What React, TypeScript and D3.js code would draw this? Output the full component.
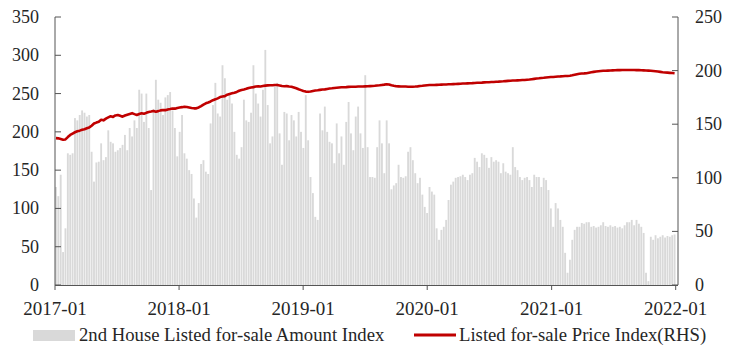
import React from "react";
import * as d3 from "d3";

// Weekly data starting 2017-01-01
const startDate = new Date(2017, 0, 1);

const amountIndex: number[] = [
  128,116,144,43,74,172,170,172,218,215,
  222,228,225,220,222,174,135,160,161,185,
  163,167,202,187,185,174,176,179,183,196,
  176,205,194,215,205,255,250,213,250,205,
  124,230,268,242,238,222,245,248,252,228,
  205,168,200,222,172,165,150,145,113,88,
  107,158,163,148,145,211,235,264,224,220,
  287,270,242,250,237,200,170,165,180,242,
  215,213,225,287,250,237,220,255,307,235,
  185,194,259,264,198,157,226,224,189,222,
  215,194,226,200,179,248,189,141,120,89,
  85,224,202,233,200,187,185,159,211,172,
  194,157,213,239,198,176,220,233,198,179,
  274,180,141,141,140,180,215,185,146,215,
  185,125,130,133,157,141,140,142,174,180,
  163,146,133,140,118,102,94,128,122,118,
  74,59,72,76,85,111,131,135,140,141,
  142,144,141,137,144,146,166,161,154,172,
  170,166,153,167,161,163,161,146,159,148,
  146,144,180,154,150,141,137,140,141,137,
  128,144,141,141,128,140,137,124,100,76,
  107,100,85,76,42,16,33,59,72,76,
  76,81,80,82,82,76,77,75,76,78,
  82,77,76,78,76,77,75,76,74,78,
  82,82,85,78,85,80,76,68,16,5,
  63,59,65,61,63,65,62,64,63,65,66,
];

const priceIndex: number[] = [
  137,136.8,136.2,135.5,135.8,138,140,141.3,142.5,143.4,
  144,144.8,145.3,146.2,147,148.6,150.6,151.5,152.3,154.2,
  153.6,155.2,156.4,157.4,156.8,158.2,158.6,157.8,157,158.1,
  158.9,159.6,160.3,159.4,158.6,159.5,160.2,159.7,160.6,161.4,
  161.8,162.3,161.7,162.2,162.9,163.3,163.1,163.8,164.2,164.7,
  164.5,165.2,165.6,165.9,166.3,166,165.6,165.1,164.8,164.8,
  165.6,166.9,168.3,169.5,170.3,171.2,172.4,173.2,174.1,175.3,
  175.8,176.2,177.5,178.2,178.8,179.4,180.1,181.2,181.9,182.4,
  183,183.8,184.3,184.6,185.1,185.3,185.2,185.6,186,186.2,
  186.4,186.3,186.6,186.5,186.1,185.6,185.4,185.5,185.2,185,
  184.3,183.5,182.6,181.8,181,180.4,180.2,180.5,181,181.4,
  181.6,182,182.3,182.5,182.9,183.3,183.5,183.8,184,184.2,
  184.4,184.5,184.6,184.8,184.9,185,185,185.1,185.2,185.1,
  185.3,185.4,185.5,185.6,185.8,186.1,186.3,186.6,186.9,187.3,
  187,186.3,185.8,185.4,185.3,185.2,185.1,185.1,185,185,
  185,185.1,185.3,185.6,185.8,186.1,186.4,186.5,186.5,186.6,
  186.7,186.8,186.9,187,187.1,187.2,187.3,187.4,187.5,187.6,
  187.7,187.9,188,188.1,188.2,188.3,188.5,188.6,188.7,188.8,
  189,189.1,189.2,189.3,189.4,189.6,189.7,189.9,190,190.2,
  190.4,190.5,190.7,190.8,190.9,191,191.2,191.3,191.5,191.7,
  192,192.3,192.6,192.8,193.1,193.3,193.6,193.8,194,194.1,
  194.3,194.5,194.6,194.8,194.9,195,195.2,195.6,196.1,196.6,
  197,197.3,197.4,197.6,198,198.4,198.8,199.1,199.4,199.6,
  199.8,199.9,200,200.1,200.2,200.3,200.4,200.4,200.5,200.5,
  200.5,200.6,200.5,200.5,200.4,200.4,200.3,200.2,200.1,200,
  199.8,199.6,199.4,199.1,198.8,198.5,198.3,198.1,197.9,197.7,197.5,
];

const xTickLabels: string[] = ["2017-01", "2018-01", "2019-01", "2020-01", "2021-01", "2022-01"];
const leftTicks: number[] = [0, 50, 100, 150, 200, 250, 300, 350];
const rightTicks: number[] = [0, 50, 100, 150, 200, 250];
const legendLabels: string[] = [
  "2nd House Listed for-sale Amount Index",
  "Listed for-sale Price Index(RHS)",
];

const W = 734;
const H = 352;
const LEFT = 55;
const RIGHT = 678;
const TOP = 17;
const BOTTOM = 285;
const FONT = "'Liberation Serif', 'Times New Roman', serif";
const TEXT = "#262626";
const AXIS = "#555555";
const BAR = "#d9d9d9";
const RED = "#c00000";

export default function App() {
  const parse = d3.timeParse("%Y-%m");
  const tickDates = xTickLabels.map((s) => parse(s) as Date);
  const x = d3
    .scaleTime()
    .domain([tickDates[0], tickDates[tickDates.length - 1]])
    .range([LEFT, 675.7]);
  const yL = d3.scaleLinear().domain([0, 350]).range([BOTTOM, TOP]);
  const yR = d3.scaleLinear().domain([0, 250]).range([BOTTOM, TOP]);

  const dates = amountIndex.map((_, i) => d3.timeDay.offset(startDate, 7 * i));
  const step = x(d3.timeDay.offset(startDate, 7)) - x(startDate);
  const bw = step * 0.78;

  const line = d3
    .line<number>()
    .x((_, i) => x(dates[i]) + bw / 2)
    .y((d) => yR(d))
    .curve(d3.curveLinear);

  return (
    <div style={{ position: "absolute", left: 0, top: 0 }}>
      <svg width={W} height={H} style={{ display: "block", background: "#fff" }}>
        {/* bars */}
        <g>
          {amountIndex.map((v, i) => (
            <rect
              key={i}
              x={x(dates[i])}
              y={yL(v)}
              width={bw}
              height={BOTTOM - yL(v)}
              fill={BAR}
            />
          ))}
        </g>
        {/* price line */}
        <path d={line(priceIndex) || ""} fill="none" stroke={RED} strokeWidth={2.6} strokeLinejoin="round" />

        {/* axes */}
        <line x1={LEFT} x2={LEFT} y1={TOP} y2={BOTTOM} stroke={AXIS} strokeWidth={1} />
        <line x1={RIGHT} x2={RIGHT} y1={TOP} y2={BOTTOM} stroke={AXIS} strokeWidth={1} />
        <line x1={LEFT} x2={RIGHT} y1={BOTTOM + 0.5} y2={BOTTOM + 0.5} stroke={AXIS} strokeWidth={1} />

        {leftTicks.map((t) => (
          <g key={"l" + t}>
            <line x1={LEFT} x2={LEFT + 6} y1={yL(t)} y2={yL(t)} stroke={AXIS} strokeWidth={1} />
            <text x={39} y={yL(t) + 6} textAnchor="end" fontFamily={FONT} fontSize={18} fill={TEXT}>
              {t}
            </text>
          </g>
        ))}
        {rightTicks.map((t) => (
          <g key={"r" + t}>
            <line x1={RIGHT - 6} x2={RIGHT} y1={yR(t)} y2={yR(t)} stroke={AXIS} strokeWidth={1} />
            <text x={695} y={yR(t) + 6} textAnchor="start" fontFamily={FONT} fontSize={18} fill={TEXT}>
              {t}
            </text>
          </g>
        ))}
        {tickDates.map((d, i) => (
          <g key={"x" + i}>
            <line x1={x(d)} x2={x(d)} y1={BOTTOM} y2={BOTTOM + 5} stroke={AXIS} strokeWidth={1} />
            <text x={x(d)} y={315} textAnchor="middle" fontFamily={FONT} fontSize={19} fill={TEXT}>
              {xTickLabels[i]}
            </text>
          </g>
        ))}

        {/* legend */}
        <rect x={33} y={330} width={42} height={11} fill={BAR} />
        <text x={79} y={341} fontFamily={FONT} fontSize={18.7} fill={TEXT}>
          {legendLabels[0]}
        </text>
        <line x1={414} x2={456} y1={335} y2={335} stroke={RED} strokeWidth={3} />
        <text x={459} y={341} fontFamily={FONT} fontSize={18.7} fill={TEXT}>
          {legendLabels[1]}
        </text>
      </svg>
    </div>
  );
}
